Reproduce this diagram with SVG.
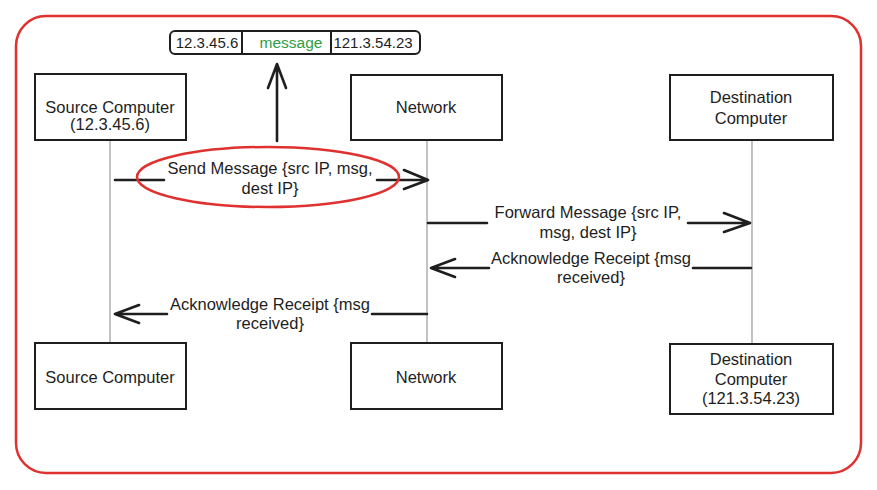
<svg xmlns="http://www.w3.org/2000/svg" width="877" height="490" viewBox="0 0 877 490">
<defs>
<style>
.t{font-family:"Liberation Sans",Arial,sans-serif;font-size:16.5px;fill:#1e1e1e;text-anchor:middle;dominant-baseline:central}
.h{font-family:"Liberation Sans",Arial,sans-serif;font-size:15px;fill:#1e1e1e;text-anchor:middle;dominant-baseline:central}
.box{fill:#fff;stroke:#1e1e1e;stroke-width:2}
.life{stroke:#9a9a9a;stroke-width:1.2;fill:none}
.arr{stroke:#1e1e1e;stroke-width:2.6;fill:none;stroke-linecap:round;stroke-linejoin:round}
</style>
</defs>
<rect x="0" y="0" width="877" height="490" fill="#fff"/>
<rect id="frame" x="16" y="16" width="845" height="457" rx="30" ry="30" fill="none" stroke="#e03131" stroke-width="2.5"/>

<g id="lifelines">
<line class="life" x1="110" y1="140" x2="110" y2="343"/>
<line class="life" x1="427" y1="140" x2="427" y2="343"/>
<line class="life" x1="752" y1="140" x2="752" y2="344"/>
</g>

<g id="header">
<rect x="170" y="31" width="250" height="23" rx="5" fill="#fff" stroke="#1e1e1e" stroke-width="2"/>
<line x1="242" y1="31" x2="242" y2="54" stroke="#1e1e1e" stroke-width="2"/>
<line x1="331" y1="31" x2="331" y2="54" stroke="#1e1e1e" stroke-width="2"/>
<text class="h" x="207" y="42.5">12.3.45.6</text>
<text class="t" x="291" y="42" style="fill:#2f9e44;font-size:15.5px">message</text>
<text class="h" x="373" y="42.5">121.3.54.23</text>
</g>

<g id="source-top">
<rect class="box" x="35" y="74" width="151" height="66"/>
<text class="t" x="110" y="107">Source Computer</text>
<text class="t" x="110" y="124">(12.3.45.6)</text>
</g>
<g id="network-top">
<rect class="box" x="351" y="75" width="151" height="65"/>
<text class="t" x="426" y="107">Network</text>
</g>
<g id="dest-top">
<rect class="box" x="670" y="75" width="163" height="65"/>
<text class="t" x="751" y="97">Destination</text>
<text class="t" x="751" y="118">Computer</text>
</g>
<g id="source-bottom">
<rect class="box" x="35" y="343" width="151" height="66"/>
<text class="t" x="110" y="377">Source Computer</text>
</g>
<g id="network-bottom">
<rect class="box" x="351" y="343" width="151" height="66"/>
<text class="t" x="426" y="377">Network</text>
</g>
<g id="dest-bottom">
<rect class="box" x="670" y="344" width="163" height="70"/>
<text class="t" x="751" y="359">Destination</text>
<text class="t" x="751" y="379">Computer</text>
<text class="t" x="751" y="398">(121.3.54.23)</text>
</g>

<g id="connectors">
<!-- up arrow -->
<path class="arr" d="M277 141 L277 64 M268 88 L277 64 L286 88"/>
<!-- send message -->
<path class="arr" d="M115 180 L164 180 M377 180 L428 180 M404 170 L428 180 L404 189"/>
<!-- forward message -->
<path class="arr" d="M428 223 L487 223 M688 223 L750 223 M724 213 L750 223 L724 232"/>
<!-- ack 1 -->
<path class="arr" d="M751 268 L693 268 M489 268 L431 268 M455 259 L431 268 L455 277"/>
<!-- ack 2 -->
<path class="arr" d="M427 314 L372 314 M167 314 L115 314 M139 305 L115 314 L139 323"/>
</g>

<g id="labels">
<text class="t" x="270" y="168">Send Message {src IP, msg,</text>
<text class="t" x="270" y="188">dest IP}</text>
<text class="t" x="588" y="212">Forward Message {src IP,</text>
<text class="t" x="588" y="232">msg, dest IP}</text>
<text class="t" x="591" y="258">Acknowledge Receipt {msg</text>
<text class="t" x="591" y="277">received}</text>
<text class="t" x="270" y="304">Acknowledge Receipt {msg</text>
<text class="t" x="270" y="323">received}</text>
</g>

<ellipse id="highlight" cx="268" cy="177" rx="131" ry="30" fill="none" stroke="#e03131" stroke-width="2.5"/>
</svg>
